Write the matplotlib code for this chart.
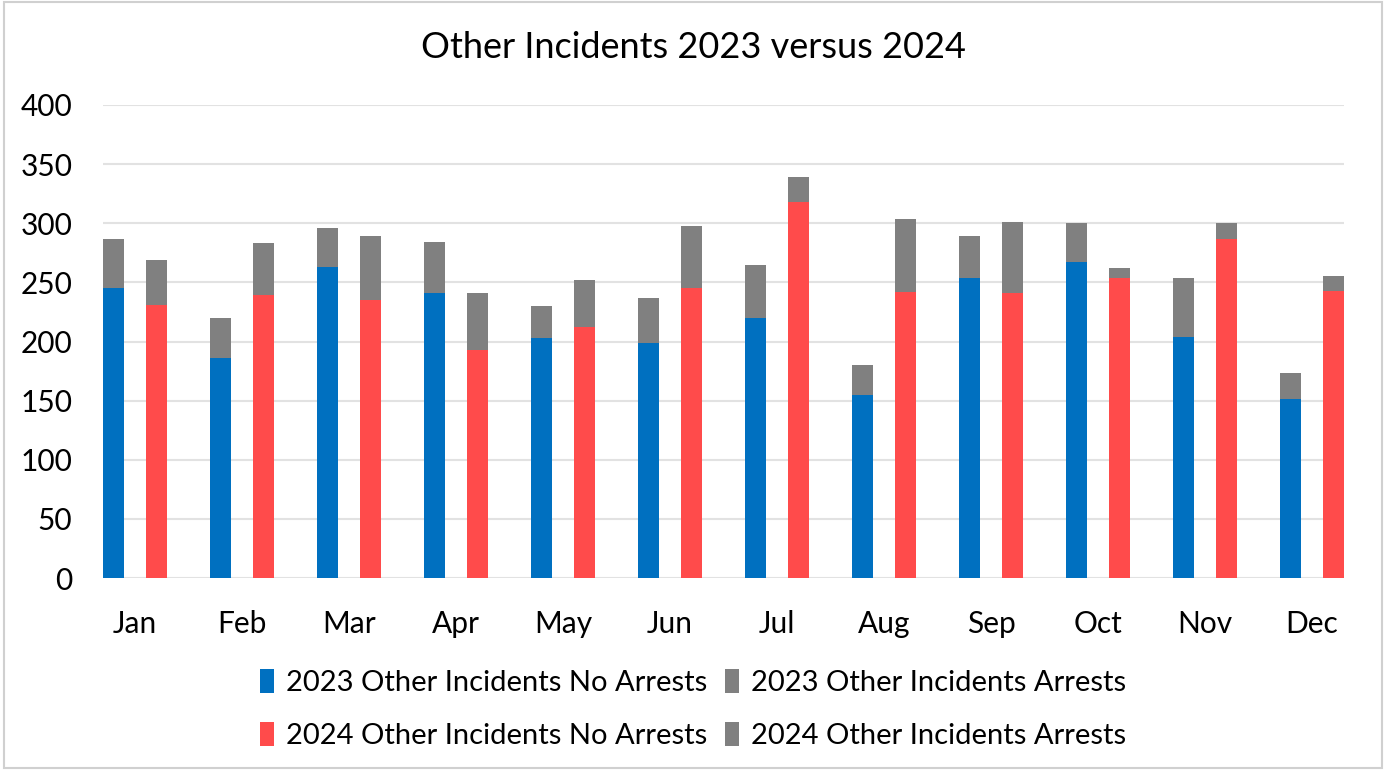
import numpy as np
import matplotlib
matplotlib.use('Agg')
import matplotlib.pyplot as plt
from matplotlib.patches import Rectangle

#%% data
months = ['Jan', 'Feb', 'Mar', 'Apr', 'May', 'Jun', 'Jul', 'Aug', 'Sep', 'Oct', 'Nov', 'Dec']
noarr23 = [245, 186, 263, 241, 203, 199, 220, 155, 254, 267, 204, 151]
total23 = [287, 220, 296, 284, 230, 237, 265, 180, 289, 300, 254, 173]
noarr24 = [231, 239, 235, 193, 212, 245, 318, 242, 241, 254, 287, 243]
total24 = [269, 283, 289, 241, 252, 298, 339, 304, 301, 262, 300, 255]

arr23 = [t - n for t, n in zip(total23, noarr23)]
arr24 = [t - n for t, n in zip(total24, noarr24)]

#%% plot
plt.rcParams['font.family'] = ['Lato', 'DejaVu Sans']
blue = '#0070C0'
red = '#FF4B4B'
grey = '#808080'

fig = plt.figure(figsize=(13.86, 7.70), dpi=100)
ax = fig.add_axes([103/1386, 1 - 578/770, (1344-103)/1386, (578-105)/770])

x = np.arange(len(months))
w = 0.2
b1 = ax.bar(x - 0.2, noarr23, w, color=blue, label='2023 Other Incidents No Arrests', zorder=3)
b2 = ax.bar(x - 0.2, arr23, w, bottom=noarr23, color=grey, label='2023 Other Incidents Arrests', zorder=3)
b3 = ax.bar(x + 0.2, noarr24, w, color=red, label='2024 Other Incidents No Arrests', zorder=3)
b4 = ax.bar(x + 0.2, arr24, w, bottom=noarr24, color=grey, label='2024 Other Incidents Arrests', zorder=3)

ax.set_xlim(-0.3, 11.3)
ax.set_ylim(0, 400)
ax.set_yticks(range(0, 401, 50))
ax.set_xticks(x)
ax.set_xticklabels(months)
ax.grid(axis='y', color='#E2E2E2', linewidth=1.5, zorder=0)
for s in ax.spines.values():
    s.set_visible(False)
ax.tick_params(length=0, labelsize=21.5, colors='black')
ax.tick_params(axis='y', pad=22)
ax.tick_params(axis='x', pad=23)

fig.text(0.5, 1 - 47/770, 'Other Incidents 2023 versus 2024', ha='center', va='center', fontsize=26)

fig.legend([b1, b3, b2, b4],
           ['2023 Other Incidents No Arrests', '2024 Other Incidents No Arrests',
            '2023 Other Incidents Arrests', '2024 Other Incidents Arrests'],
           ncol=2, loc='center', bbox_to_anchor=(0.5, 1 - 709/770), frameon=False,
           fontsize=21, handlelength=0.5, handleheight=0.9, handletextpad=0.4,
           columnspacing=0.6, labelspacing=0.9)

fig.patches.append(Rectangle((4/1386, 2/770), 1378/1386, 766/770, transform=fig.transFigure,
                             fill=False, edgecolor='#D0D0D0', linewidth=1.5))

fig.savefig('out.png', dpi=100, facecolor='white')
